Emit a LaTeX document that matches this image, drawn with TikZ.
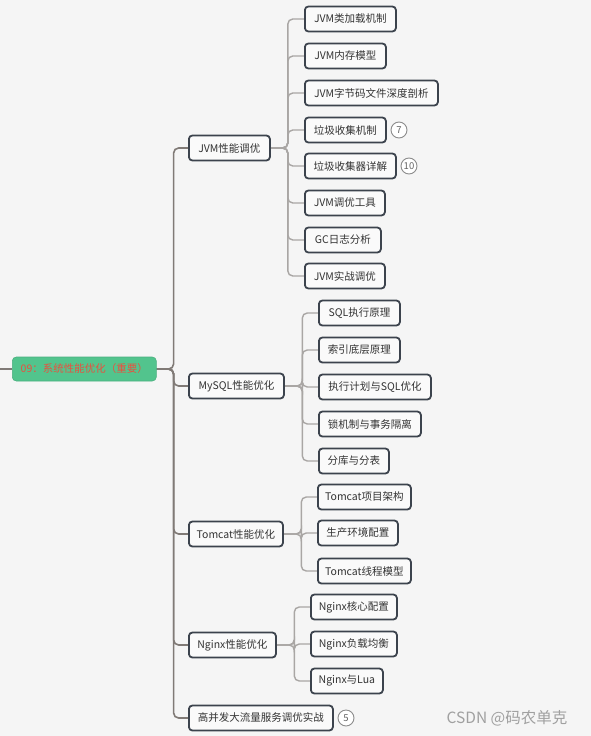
\documentclass[tikz,border=0pt]{standalone}
\usepackage{fontspec}
\setmainfont{Noto Sans CJK SC}
\usetikzlibrary{backgrounds}
\definecolor{bgc}{HTML}{F5F5F5}
\definecolor{nodeborder}{HTML}{3C434D}
\definecolor{nodefill}{HTML}{FAFAFA}
\definecolor{rootfill}{HTML}{52C48D}
\definecolor{roottext}{HTML}{E9503F}
\definecolor{trunkc}{HTML}{807A76}
\definecolor{branchc}{HTML}{A9A6A4}
\definecolor{txtc}{HTML}{333333}
\definecolor{badgec}{HTML}{8C8C8C}
\definecolor{wmarkc}{HTML}{A0A0A0}
\tikzset{
  box/.style={draw=nodeborder, line width=1.8pt, fill=nodefill, rounded corners=3.5pt,
    anchor=west, minimum height=25pt, inner xsep=3pt, inner ysep=0pt,
    font=\fontsize{10.5pt}{12pt}\selectfont, text=txtc},
  rootbox/.style={fill=rootfill, draw=rootfill!90!black, line width=0.6pt, rounded corners=4pt,
    anchor=west, minimum height=24pt, minimum width=144pt, inner sep=0pt,
    font=\fontsize{10.5pt}{12pt}\selectfont, text=roottext},
  badgenode/.style={circle, draw=badgec, line width=0.9pt, fill=white, minimum size=16pt,
    inner sep=0pt, font=\fontsize{9.5pt}{10pt}\selectfont, text=badgec!70!black},
  lvone/.style={draw=trunkc, line width=1.6pt, rounded corners=5pt},
  lvtwo/.style={draw=branchc, line width=1.4pt, rounded corners=5pt},
}
\begin{document}
\begin{tikzpicture}[x=1pt,y=-1pt]
\useasboundingbox (0,0) rectangle (591,736);
% root
\node[rootbox] (root) at (12,369) {09：系统性能优化（重要）};
\coordinate (stub) at (0,369);
% level 1
\node[box, minimum width=81pt] (jvm) at (188,148) {JVM性能调优};
\node[box, minimum width=95pt] (mysql) at (188,386) {MySQL性能优化};
\node[box, minimum width=94pt] (tomcat) at (188,534) {Tomcat性能优化};
\node[box, minimum width=87pt] (nginx) at (188,645) {Nginx性能优化};
\node[box, minimum width=144pt] (gbf) at (188,718) {高并发大流量服务调优实战};
% JVM children
\node[box, minimum width=91pt] (a1) at (304,19) {JVM类加载机制};
\node[box, minimum width=81pt] (a2) at (304,56) {JVM内存模型};
\node[box, minimum width=133pt] (a3) at (304,93) {JVM字节码文件深度剖析};
\node[box, minimum width=81pt] (a4) at (304,130) {垃圾收集机制};
\node[box, minimum width=91pt] (a5) at (304,166) {垃圾收集器详解};
\node[box, minimum width=80pt] (a6) at (304,203) {JVM调优工具};
\node[box, minimum width=76pt] (a7) at (304,240) {GC日志分析};
\node[box, minimum width=80pt] (a8) at (304,276) {JVM实战调优};
% MySQL children
\node[box, minimum width=81pt] (b1) at (318,313) {SQL执行原理};
\node[box, minimum width=81pt] (b2) at (318,350) {索引底层原理};
\node[box, minimum width=112pt] (b3) at (318,387) {执行计划与SQL优化};
\node[box, minimum width=102pt] (b4) at (318,424) {锁机制与事务隔离};
\node[box, minimum width=70pt] (b5) at (318,461) {分库与分表};
% Tomcat children
\node[box, minimum width=93pt] (c1) at (317,497) {Tomcat项目架构};
\node[box, minimum width=80pt] (c2) at (317,533) {生产环境配置};
\node[box, minimum width=93pt] (c3) at (317,571) {Tomcat线程模型};
% Nginx children
\node[box, minimum width=86pt] (d1) at (310,607) {Nginx核心配置};
\node[box, minimum width=86pt] (d2) at (310,644) {Nginx负载均衡};
\node[box, minimum width=72pt] (d3) at (310,681) {Nginx与Lua};
% badges
\node[badgenode] (k7) at (399,130) {7};
\node[badgenode] (k10) at (409,166) {10};
\node[badgenode] (k5) at (346,718) {5};
% watermark
\node[text=wmarkc, font=\fontsize{15.5pt}{16pt}\selectfont, inner sep=0pt] (wm) at (507,718) {CSDN @码农单克};
% connectors
\begin{scope}[on background layer]
\fill[bgc] (0,0) rectangle (591,736);
\draw[lvone] (stub) -- (root.west);
\foreach \n in {jvm,mysql,tomcat,nginx,gbf}
  \draw[lvone] (root.east) -- ++(17,0) |- (\n.west);
\foreach \n in {a1,a2,a3,a4,a5,a6,a7,a8}
  \draw[lvtwo] (jvm.east) -- ++(17,0) |- (\n.west);
\foreach \n in {b1,b2,b3,b4,b5}
  \draw[lvtwo] (mysql.east) -- ++(17.5,0) |- (\n.west);
\foreach \n in {c1,c2,c3}
  \draw[lvtwo] (tomcat.east) -- ++(17.5,0) |- (\n.west);
\foreach \n in {d1,d2,d3}
  \draw[lvtwo] (nginx.east) -- ++(17.5,0) |- (\n.west);
\end{scope}
\end{tikzpicture}
\end{document}
